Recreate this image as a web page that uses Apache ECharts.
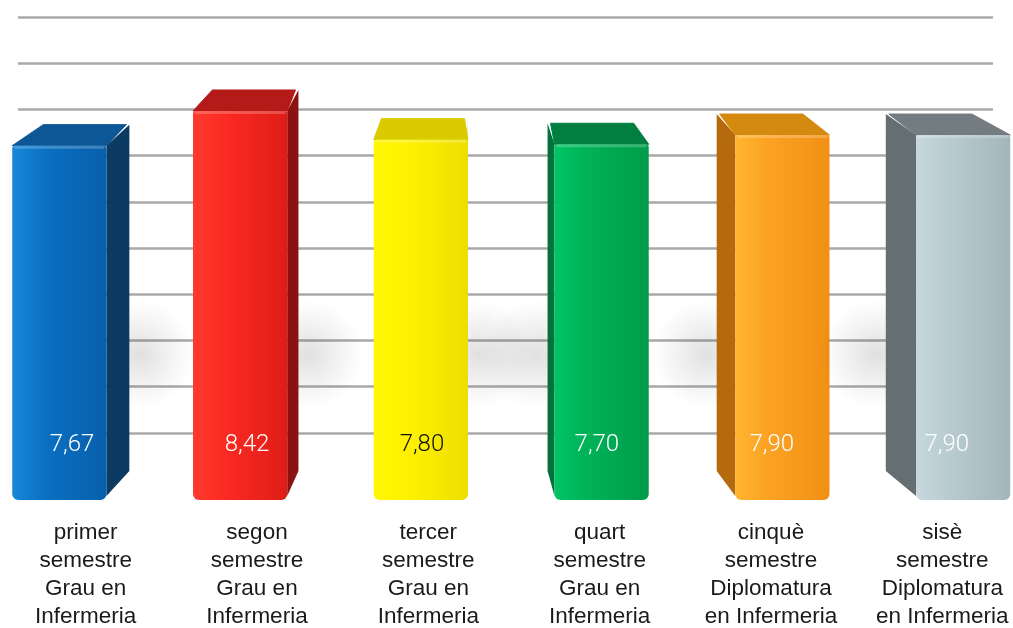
<!DOCTYPE html>
<html>
<head>
<meta charset="utf-8">
<script src="https://cdn.jsdelivr.net/npm/echarts@6/dist/echarts.min.js"></script>
<style>html,body{margin:0;padding:0;background:#fff;}#c{width:1013px;height:628px;}</style>
</head>
<body>
<div id="c"></div>
<script>
// ---- data ----
const categories = [
  "primer\nsemestre\nGrau en\nInfermeria",
  "segon\nsemestre\nGrau en\nInfermeria",
  "tercer\nsemestre\nGrau en\nInfermeria",
  "quart\nsemestre\nGrau en\nInfermeria",
  "cinquè\nsemestre\nDiplomatura\nen Infermeria",
  "sisè\nsemestre\nDiplomatura\nen Infermeria"
];
const values = [7.67, 8.42, 7.80, 7.70, 7.90, 7.90];
const valueLabels = ["7,67", "8,42", "7,80", "7,70", "7,90", "7,90"];

// ---- styles ----
const frontColors = [
  ["#1888d8", "#0a70c2", "#075fab"],
  ["#ff3a2c", "#fb2a22", "#de1d17"],
  ["#fff700", "#fff200", "#eede00"],
  ["#00c466", "#00b257", "#009c4a"],
  ["#ffb530", "#fba223", "#f09015"],
  ["#c6d8de", "#b8cbd1", "#a3b6bc"]
];
const sideColors = ["#0b3a62", "#8c1212", "#c4b300", "#00723a", "#b56a0d", "#656f73"];
const topColors = ["#0d5797", "#b41a17", "#d9cb00", "#007f40", "#d4890f", "#737c80"];
const labelColors = ["#ffffff", "#ffffff", "#111111", "#ffffff", "#ffffff", "#ffffff"];

const chart = echarts.init(document.getElementById('c'), null, {renderer: 'canvas'});

function renderBar(params, api) {
  const i = params.dataIndex;
  const v = api.value(1);
  const W = api.getWidth();
  const band = api.size([1, 0])[0];
  const depth = api.size([0, 0.455])[1];
  const top = api.coord([api.value(0), v]);
  const base = api.coord([api.value(0), 0]);
  const cx = top[0];
  const fw = band * 0.55;
  const bw = band * 0.52;
  const fcx = cx + (cx - W * 0.52) * 0.055 - band * 0.012;
  const dx = (cx - W * 0.454) * 0.068;
  const bcx = fcx - dx;
  const fL = fcx - fw / 2, fR = fcx + fw / 2;
  const bL = bcx - bw / 2, bR = bcx + bw / 2;
  const fT = top[1] + depth, fB = base[1] + depth;
  const bT = top[1], bB = base[1];
  let side, shX;
  if (dx < 0) {
    side = [[fR, fT], [bR, bT], [bR, bB - 8], [fR, fB - 4]];
    shX = bR + 10;
  } else {
    side = [[fL, fT], [bL, bT], [bL, bB - 8], [fL, fB - 4]];
    shX = bL - 10;
  }
  const shY = api.coord([api.value(0), 2.7])[1];
  const fc = frontColors[i];
  const children = [
    {
      type: 'ellipse',
      shape: {cx: shX, cy: shY, rx: band * 0.32, ry: band * 0.5},
      style: {
        fill: new echarts.graphic.RadialGradient(0.5, 0.5, 0.5, [
          {offset: 0, color: 'rgba(0,0,0,0.12)'},
          {offset: 0.55, color: 'rgba(0,0,0,0.05)'},
          {offset: 1, color: 'rgba(0,0,0,0)'}
        ])
      }
    },
    {
      type: 'polygon',
      shape: {points: side},
      style: {fill: sideColors[i]}
    },
    {
      type: 'polygon',
      shape: {points: [[bL + 3, bT], [bR - 3, bT], [fR, fT], [fL, fT]]},
      style: {fill: topColors[i], stroke: topColors[i], lineWidth: 1, lineJoin: 'round'}
    },
    {
      type: 'rect',
      shape: {x: fL, y: fT, width: fw, height: fB - fT, r: [3, 3, 6, 6]},
      style: {
        fill: new echarts.graphic.LinearGradient(0, 0, 1, 0, [
          {offset: 0, color: fc[0]},
          {offset: 0.35, color: fc[1]},
          {offset: 1, color: fc[2]}
        ])
      }
    },
    {
      type: 'rect',
      shape: {x: fL + 2, y: fT, width: fw - 4, height: 3},
      style: {fill: 'rgba(255,255,255,0.22)'}
    },
    {
      type: 'text',
      style: {
        text: valueLabels[i],
        x: fcx - dx / 2,
        y: api.coord([api.value(0), 1.2])[1] + depth,
        fill: labelColors[i],
        font: '300 24px Roboto, "Liberation Sans", sans-serif',
        align: 'center',
        verticalAlign: 'middle'
      }
    }
  ];
  return {type: 'group', children: children};
}

chart.setOption({
  animation: false,
  backgroundColor: '#ffffff',
  grid: [
    {left: 18, right: 20, top: 17, bottom: 149, outerBoundsMode: 'none', containLabel: false},
    {left: 0, width: 1028, top: 17, bottom: 149, outerBoundsMode: 'none', containLabel: false}
  ],
  xAxis: [
    {type: 'value', gridIndex: 0, show: false, min: 0, max: 1},
    {
      type: 'category', gridIndex: 1, data: categories,
      axisLine: {show: false}, axisTick: {show: false},
      axisLabel: {
        interval: 0, margin: 40, color: '#1a1a1a', fontSize: 22.5, lineHeight: 28,
        fontFamily: '"Liberation Sans", Arial, sans-serif'
      }
    }
  ],
  yAxis: [
    {
      type: 'value', gridIndex: 0, min: 0, max: 10, interval: 1,
      axisLine: {show: false}, axisTick: {show: false}, axisLabel: {show: false},
      splitLine: {show: true, lineStyle: {width: 2.5, color: ['rgba(0,0,0,0)', '#a9a9a9', '#a9a9a9', '#a9a9a9', '#a9a9a9', '#a9a9a9', '#a9a9a9', '#a9a9a9', '#a9a9a9', '#a9a9a9', '#a9a9a9']}}
    },
    {
      type: 'value', gridIndex: 1, min: 0, max: 10, interval: 1, show: false,
      splitLine: {show: false}
    }
  ],
  series: [
    {
      type: 'custom',
      xAxisIndex: 1,
      yAxisIndex: 1,
      clip: false,
      renderItem: renderBar,
      data: values.map((v, i) => [i, v])
    }
  ]
});
</script>
</body>
</html>
